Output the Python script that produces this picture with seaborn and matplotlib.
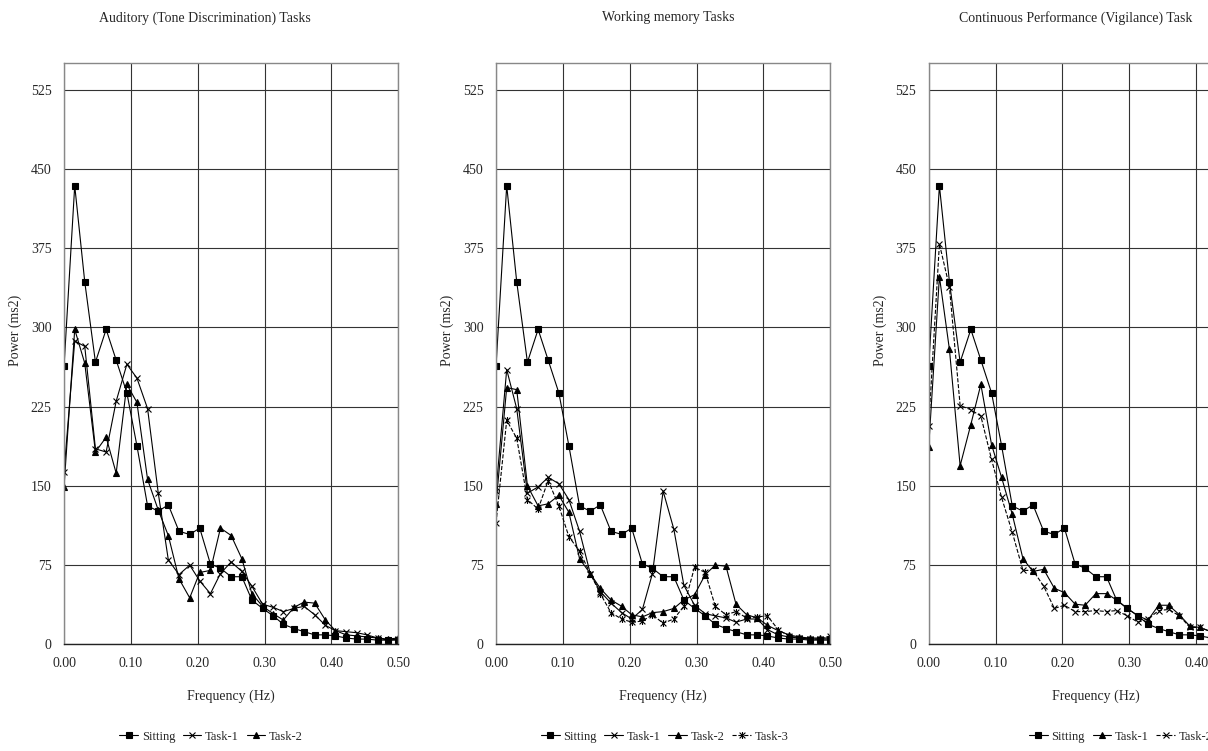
import numpy as np
import pandas as pd
import matplotlib
matplotlib.use("Agg")
import matplotlib.pyplot as plt
from matplotlib.path import Path
import seaborn as sns

# frequency bins (Hz)
freq = [0.000, 0.016, 0.031, 0.047, 0.063, 0.078, 0.094, 0.109, 0.125, 0.141, 0.156,
        0.172, 0.188, 0.203, 0.219, 0.234, 0.250, 0.266, 0.281, 0.297, 0.313, 0.328,
        0.344, 0.359, 0.375, 0.391, 0.406, 0.422, 0.438, 0.453, 0.469, 0.484, 0.500]

# sitting baseline (same in all three panels)
sitting = [263, 434, 343, 267, 298, 269, 238, 188, 131, 126, 132, 107, 104, 110, 76, 72,
           64, 64, 42, 34, 27, 19, 15, 12, 9, 9, 8, 6, 5, 5, 4, 4, 4]

# auditory (tone discrimination)
aud_task1 = [163, 287, 282, 185, 182, 230, 265, 252, 223, 143, 80, 66, 75, 60, 48, 67,
             78, 69, 55, 38, 35, 31, 34, 36, 28, 18, 13, 12, 11, 9, 6, 4, 5]
aud_task2 = [149, 298, 266, 182, 196, 162, 246, 229, 156, 127, 103, 62, 44, 68, 70, 110,
             103, 81, 48, 36, 29, 23, 35, 40, 39, 23, 13, 9, 8, 7, 6, 5, 6]

# working memory
wm_task1 = [145, 260, 223, 143, 149, 158, 152, 137, 107, 67, 50, 39, 30, 24, 33, 67,
            145, 109, 56, 37, 29, 27, 25, 21, 24, 24, 14, 9, 7, 6, 5, 5, 5]
wm_task2 = [133, 243, 241, 150, 131, 133, 141, 125, 81, 67, 53, 42, 36, 28, 26, 30,
            31, 34, 42, 47, 66, 75, 74, 38, 28, 25, 18, 13, 9, 7, 6, 6, 6]
wm_task3 = [115, 212, 195, 137, 128, 155, 131, 102, 88, 67, 48, 30, 24, 21, 22, 28,
            20, 24, 36, 73, 68, 36, 28, 31, 25, 26, 27, 14, 8, 6, 5, 5, 8]

# continuous performance (vigilance)
cpt_task1 = [187, 348, 279, 169, 208, 246, 189, 158, 123, 81, 69, 71, 53, 49, 38, 37,
             48, 48, 42, 34, 27, 23, 37, 37, 28, 17, 16, 12, 9, 7, 6, 5, 5]
cpt_task2 = [207, 379, 338, 226, 222, 216, 175, 139, 106, 70, 70, 55, 34, 37, 31, 31,
             32, 31, 32, 27, 21, 24, 32, 33, 27, 16, 16, 12, 9, 7, 6, 5, 5]

titles = ["Auditory (Tone Discrimination) Tasks", "Working memory Tasks",
          "Continuous Performance (Vigilance) Task"]

sns.set_style("white")
plt.rcParams['font.family'] = ['Liberation Serif', 'DejaVu Serif']

# excel-style "star" marker: x with a vertical bar
star = Path([(-1, -1), (1, 1), (-1, 1), (1, -1), (0, -1.2), (0, 1.2)],
            [Path.MOVETO, Path.LINETO] * 3)

fig = plt.figure(figsize=(12.08, 7.51), dpi=100)
lefts = [0.053, 0.4106, 0.7688]
axes = [fig.add_axes([l, 0.142, 0.2767, 0.774]) for l in lefts]

panels = [
    [("Sitting", sitting, "s", "-"), ("Task-1", aud_task1, "x", "-"),
     ("Task-2", aud_task2, "^", "-")],
    [("Sitting", sitting, "s", "-"), ("Task-1", wm_task1, "x", "-"),
     ("Task-2", wm_task2, "^", "-"), ("Task-3", wm_task3, star, "--")],
    [("Sitting", sitting, "s", "-"), ("Task-1", cpt_task1, "^", "-"),
     ("Task-2", cpt_task2, "x", "--")],
]
title_x = [0.42, 0.515, 0.44]
legend_x = [0.44, 0.505, 0.575]

for ax, series, title, tx, lx in zip(axes, panels, titles, title_x, legend_x):
    for name, vals, mk, ls in series:
        df = pd.DataFrame({"freq": freq, "power": vals})
        ms = 4.5 if mk == "s" else 5
        sns.lineplot(data=df, x="freq", y="power", ax=ax, color="black", lw=0.8,
                     linestyle=ls, marker=mk, markersize=ms, markeredgecolor="black",
                     markerfacecolor="black", markeredgewidth=0.8, label=name)
    ax.set_xlim(0, 0.5)
    ax.set_ylim(0, 550)
    ax.set_xticks([0, 0.1, 0.2, 0.3, 0.4, 0.5])
    ax.set_xticklabels(["0.00", "0.10", "0.20", "0.30", "0.40", "0.50"])
    ax.set_yticks([0, 75, 150, 225, 300, 375, 450, 525])
    ax.grid(True, color="#333333", lw=0.8)
    ax.set_axisbelow(True)
    for s in ax.spines.values():
        s.set_color("#888888")
        s.set_linewidth(1)
    ax.spines["bottom"].set_color("#222222")
    ax.tick_params(direction="out", length=3, color="#444444", labelsize=10, pad=6)
    ax.set_xlabel("Frequency (Hz)", fontsize=10, labelpad=14)
    ax.set_ylabel("Power (ms2)", fontsize=10)
    ax.yaxis.set_label_coords(-0.125, 0.54)
    ax.set_title(title, fontsize=10, x=tx, pad=30)
    ax.legend(loc="center", bbox_to_anchor=(lx, -0.159), ncol=len(series), frameon=False,
              fontsize=9, handlelength=1.5, handletextpad=0.3, columnspacing=0.6)

fig.savefig("out.png", dpi=100)
